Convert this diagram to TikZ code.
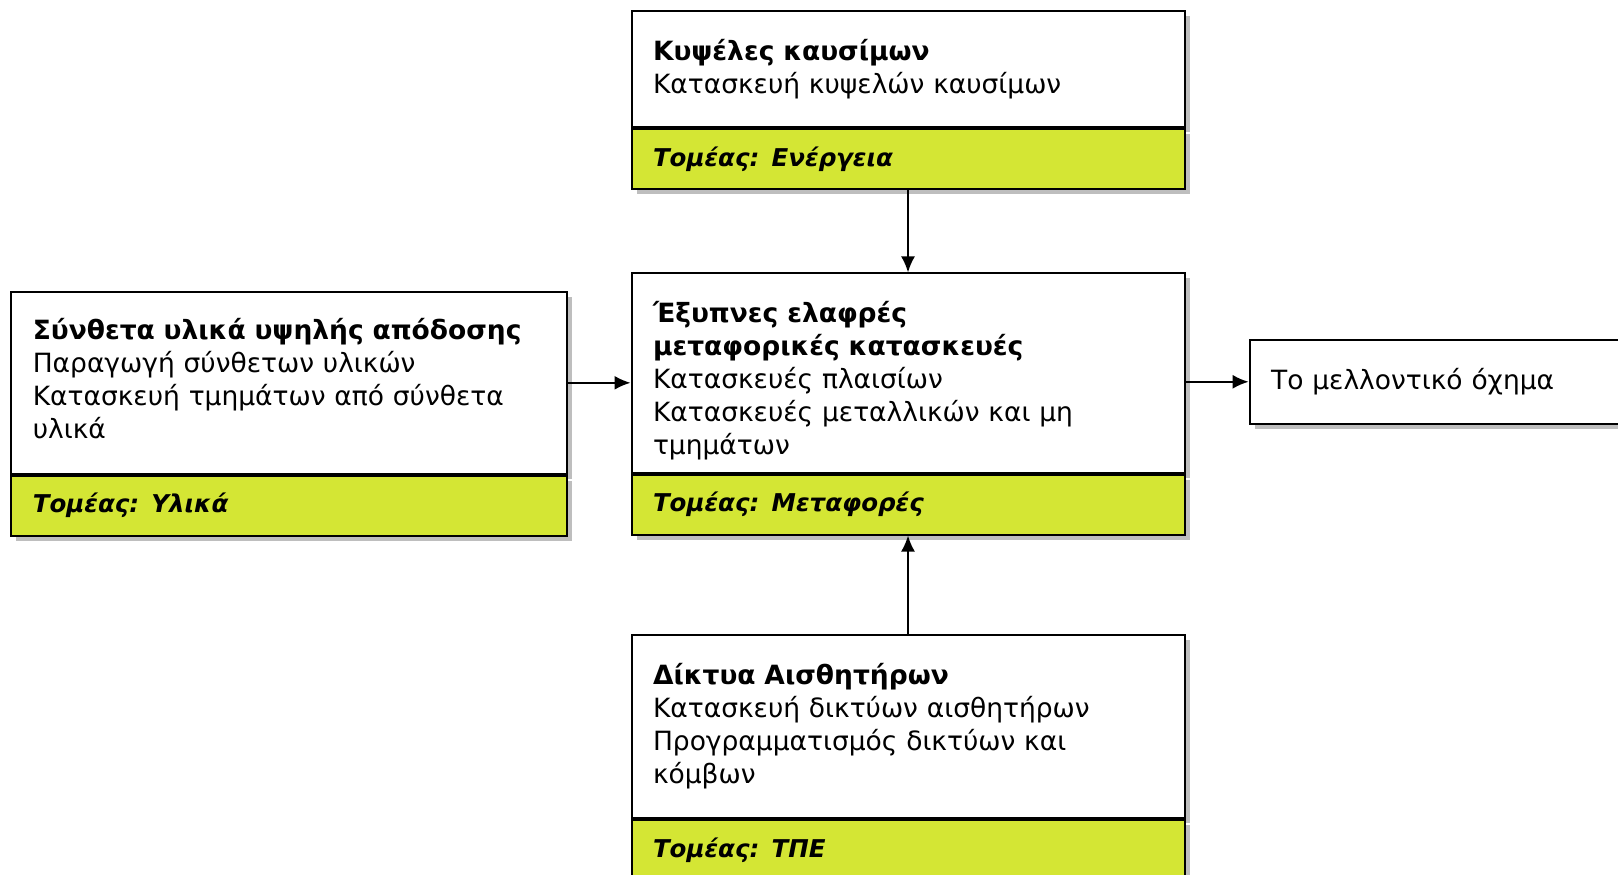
\documentclass[tikz,border=0pt]{standalone}
\usepackage{fontspec}
\setmainfont{DejaVu Sans}
\usetikzlibrary{arrows.meta,shadows}
\definecolor{sectorgreen}{RGB}{212,230,52}
\definecolor{shadowgray}{RGB}{190,190,190}
\begin{document}
\begin{tikzpicture}[
  x=1pt, y=-1pt,
  body/.style={draw, line width=2pt, fill=white, anchor=north west, minimum width=553pt,
    text width=510pt, inner xsep=21.5pt, inner ysep=0pt, align=left,
    font=\fontsize{26.5}{33}\selectfont,
    drop shadow={shadow xshift=5pt, shadow yshift=-5pt, fill=shadowgray, opacity=1}},
  sector/.style={body, minimum height=60pt, fill=sectorgreen, font=\fontsize{24.5}{30}\selectfont\bfseries\itshape},
  arrow/.style={-{Latex[length=16pt,width=14pt]}, line width=1.8pt}
]
  \useasboundingbox (0,0) rectangle (1618,875);
  \clip (0,0) rectangle (1618,875);

  % Boxes
  \node[body, minimum height=115.6pt] (fuel) at (630.5,10.3)
    {\textbf{Κυψέλες καυσίμων}\\Κατασκευή κυψελών καυσίμων};
  \node[sector] (fuelsec) at (fuel.south west) {Τομέας: Ενέργεια};

  \node[body, minimum height=199.2pt] (smart) at (630.5,272.4)
    {\rule{0pt}{36pt}\textbf{Έξυπνες ελαφρές}\\\textbf{μεταφορικές κατασκευές}\\Κατασκευές πλαισίων\\Κατασκευές μεταλλικών και μη\\τμημάτων};
  \node[sector] (smartsec) at (smart.south west) {Τομέας: Μεταφορές};

  \node[body, minimum width=556pt, text width=513pt, minimum height=181.6pt] (comp) at (10.3,291)
    {\textbf{Σύνθετα υλικά υψηλής απόδοσης}\\Παραγωγή σύνθετων υλικών\\Κατασκευή τμημάτων από σύνθετα\\υλικά\rule[-8pt]{0pt}{0pt}};
  \node[sector, minimum width=556pt, text width=513pt] (compsec) at (comp.south west) {Τομέας: Υλικά};

  \node[body, minimum height=183.7pt] (sensor) at (630.5,633.6)
    {\textbf{Δίκτυα Αισθητήρων}\\Κατασκευή δικτύων αισθητήρων\\Προγραμματισμός δικτύων και\\κόμβων};
  \node[sector] (sensorsec) at (sensor.south west) {Τομέας: ΤΠΕ};

  \node[body, minimum width=420pt, text width=377pt, minimum height=84.6pt] (vehicle) at (1248.6,338.5)
    {Το μελλοντικό όχημα};

  % Arrows
  \draw[arrow] (fuelsec.south) -- (smart.north);
  \draw[arrow] (sensor.north) -- (smartsec.south);
  \draw[arrow] (comp.east) -- (comp.east -| smart.west);
  \draw[arrow] (smart.east |- vehicle.west) -- (vehicle.west);
\end{tikzpicture}
\end{document}
